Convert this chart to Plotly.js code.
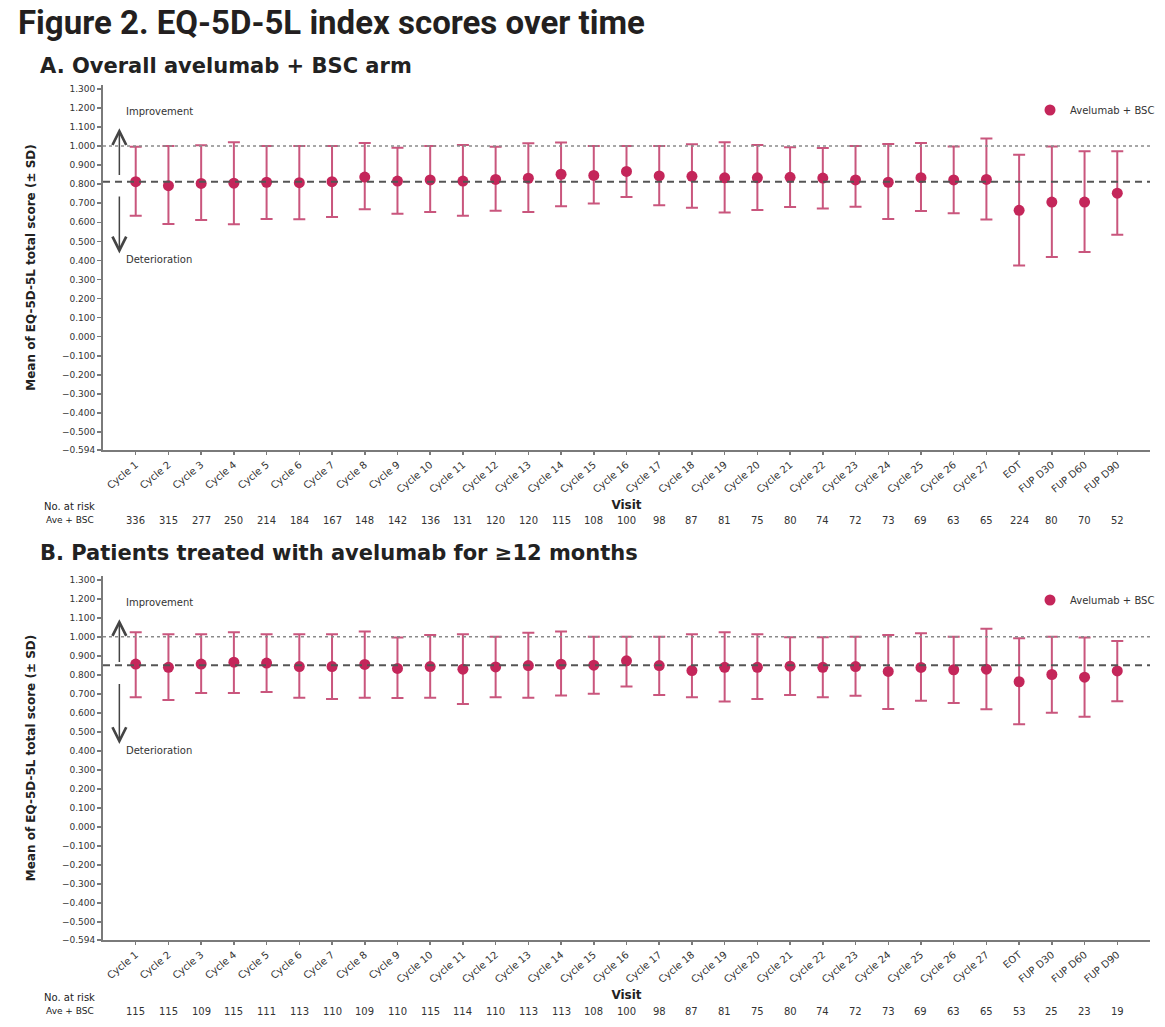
<!DOCTYPE html>
<html>
<head>
<meta charset="utf-8">
<script src="https://cdn.plot.ly/plotly-3.0.1.min.js"></script>
<style>html,body{margin:0;padding:0;background:#fff;}#chart{width:1165px;height:1027px;}</style>
</head>
<body>
<div id="chart"></div>
<script>
// ---------- DATA ----------
const visits = ['Cycle 1','Cycle 2','Cycle 3','Cycle 4','Cycle 5','Cycle 6','Cycle 7','Cycle 8','Cycle 9','Cycle 10',
  'Cycle 11','Cycle 12','Cycle 13','Cycle 14','Cycle 15','Cycle 16','Cycle 17','Cycle 18','Cycle 19','Cycle 20',
  'Cycle 21','Cycle 22','Cycle 23','Cycle 24','Cycle 25','Cycle 26','Cycle 27','EOT','FUP D30','FUP D60','FUP D90'];

// Panel A: overall avelumab + BSC arm
const meanA  = [0.813,0.792,0.804,0.805,0.810,0.808,0.813,0.837,0.816,0.822,0.816,0.825,0.831,0.852,0.846,0.867,0.843,0.841,0.833,0.833,0.836,0.832,0.822,0.810,0.834,0.822,0.825,0.663,0.706,0.706,0.753];
const upperA = [0.996,1.000,1.004,1.020,1.000,1.000,1.000,1.016,0.991,1.000,1.005,0.996,1.014,1.019,1.000,1.000,1.000,1.009,1.020,1.005,0.993,0.990,1.000,1.010,1.016,0.998,1.040,0.954,0.998,0.972,0.972];
const lowerA = [0.634,0.591,0.612,0.590,0.617,0.616,0.628,0.668,0.645,0.654,0.635,0.661,0.654,0.684,0.699,0.733,0.689,0.676,0.652,0.665,0.680,0.672,0.682,0.617,0.659,0.647,0.615,0.374,0.418,0.444,0.535];
const atRiskA = [336,315,277,250,214,184,167,148,142,136,131,120,120,115,108,100,98,87,81,75,80,74,72,73,69,63,65,224,80,70,52];

// Panel B: patients treated >= 12 months
const meanB  = [0.857,0.840,0.857,0.867,0.862,0.844,0.844,0.855,0.834,0.844,0.830,0.842,0.849,0.856,0.851,0.874,0.849,0.823,0.840,0.840,0.846,0.840,0.844,0.818,0.839,0.827,0.830,0.764,0.802,0.788,0.821];
const upperB = [1.024,1.014,1.014,1.024,1.014,1.014,1.014,1.028,0.996,1.010,1.014,1.000,1.022,1.028,1.000,1.000,1.000,1.014,1.024,1.014,0.998,0.998,1.000,1.010,1.019,1.000,1.043,0.993,1.000,0.996,0.978];
const lowerB = [0.683,0.668,0.705,0.705,0.710,0.680,0.673,0.680,0.678,0.680,0.647,0.683,0.680,0.692,0.701,0.739,0.694,0.683,0.660,0.673,0.694,0.683,0.690,0.620,0.664,0.652,0.619,0.540,0.601,0.580,0.661];
const atRiskB = [115,115,109,115,111,113,110,109,110,115,114,110,113,113,108,100,98,87,81,75,80,74,72,73,69,63,65,53,25,23,19];

// reference lines
const improveLine = 1.0;
const meanLineA = 0.813;
const meanLineB = 0.851;

// arrows [tip, tail] and label positions
const upArrowA = [1.093, 0.84];
const downArrowA = [0.437, 0.743];
const upArrowB = [1.093, 0.86];
const downArrowB = [0.437, 0.76];
const improveLabelY = 1.18;
const deteriorLabelY = 0.405;

const yTickVals = [-0.594,-0.5,-0.4,-0.3,-0.2,-0.1,0,0.1,0.2,0.3,0.4,0.5,0.6,0.7,0.8,0.9,1.0,1.1,1.2,1.3];
const yTickText = ['\u22120.594','\u22120.500','\u22120.400','\u22120.300','\u22120.200','\u22120.100','0.000','0.100','0.200','0.300','0.400','0.500','0.600','0.700','0.800','0.900','1.000','1.100','1.200','1.300'];

// ---------- STYLE ----------
const W = 1165, H = 1027;
const ML = 103, MR = 15;
const pink = '#c4265a';
const errPink = '#c9567d';
const axisGrey = '#7a7a7a';
const fontTick = 'DejaVu Sans, sans-serif';
const py = px => 1 - px / H;                       // pixel-from-top -> paper y
const pxX = px => (px - ML) / (W - ML - MR);        // pixel-from-left -> paper x

function mkTrace(mean, upper, lower, xa, ya, legend) {
  return {
    type: 'scatter', mode: 'markers', name: 'Avelumab + BSC',
    x: visits, y: mean, xaxis: xa, yaxis: ya, legend: legend,
    marker: {color: pink, size: 11},
    error_y: {type: 'data', symmetric: false,
      array: upper.map((u, i) => u - mean[i]),
      arrayminus: lower.map((l, i) => mean[i] - l),
      color: errPink, thickness: 2, width: 6}
  };
}

function yAxis(domain) {
  return {domain: domain, range: [-0.594, 1.32], tickvals: yTickVals, ticktext: yTickText,
    showgrid: false, zeroline: false, showline: true, linecolor: axisGrey, linewidth: 2,
    ticks: 'outside', ticklen: 4, tickcolor: axisGrey, tickwidth: 1.5,
    tickfont: {family: fontTick, size: 9, color: '#333'}, automargin: false,
    title: {text: '<b>Mean of EQ-5D-5L total score (± SD)</b>', font: {family: fontTick, size: 12, color: '#222'}, standoff: 24}};
}
function xAxis(anchor) {
  return {anchor: anchor, type: 'category', range: [-1, 31], tickangle: -40,
    showgrid: false, zeroline: false, showline: true, linecolor: axisGrey, linewidth: 2,
    ticks: 'outside', ticklen: 3, tickcolor: axisGrey, tickwidth: 1.5,
    tickfont: {family: fontTick, size: 10, color: '#333'}, automargin: false,
    title: {text: '<b>Visit</b>', font: {family: fontTick, size: 12, color: '#222'}, standoff: 6}};
}

const domA = [py(450), py(85)];
const domB = [py(940), py(576)];

const shapes = [];
[['x','y',meanLineA],['x2','y2',meanLineB]].forEach(([xa, ya, m]) => {
  shapes.push({type: 'line', xref: xa + ' domain', yref: ya, x0: 0, x1: 1, y0: improveLine, y1: improveLine,
    line: {color: '#8a8a8a', width: 1.5, dash: 'dot'}});
  shapes.push({type: 'line', xref: xa + ' domain', yref: ya, x0: 0, x1: 1, y0: m, y1: m,
    line: {color: '#555', width: 2, dash: '7px,5px'}});
});

const annotations = [
  {text: '<b>A. Overall avelumab + BSC arm</b>', xref: 'paper', yref: 'paper', x: pxX(38), y: py(66),
   xanchor: 'left', yanchor: 'middle', showarrow: false, font: {family: fontTick, size: 21, color: '#222'}},
  {text: '<b>B. Patients treated with avelumab for \u226512 months</b>', xref: 'paper', yref: 'paper', x: pxX(38), y: py(553),
   xanchor: 'left', yanchor: 'middle', showarrow: false, font: {family: fontTick, size: 21, color: '#222'}},
];

function panelDecor(xa, ya, up, down, riskRowTop, risk) {
  const fnt = {family: fontTick, size: 10, color: '#333'};
  annotations.push({xref: xa, yref: ya, x: -0.5, y: up[0], axref: xa, ayref: ya, ax: -0.5, ay: up[1],
    showarrow: true, arrowhead: 5, arrowsize: 1.8, arrowwidth: 1.5, arrowcolor: '#444', text: ''});
  annotations.push({xref: xa, yref: ya, x: -0.5, y: down[0], axref: xa, ayref: ya, ax: -0.5, ay: down[1],
    showarrow: true, arrowhead: 5, arrowsize: 1.8, arrowwidth: 1.5, arrowcolor: '#444', text: ''});
  annotations.push({xref: xa, yref: ya, x: -0.35, y: improveLabelY, xanchor: 'left', yanchor: 'middle',
    showarrow: false, text: 'Improvement', font: fnt});
  annotations.push({xref: xa, yref: ya, x: -0.35, y: deteriorLabelY, xanchor: 'left', yanchor: 'middle',
    showarrow: false, text: 'Deterioration', font: fnt});
  annotations.push({xref: 'paper', yref: 'paper', x: pxX(42), y: py(riskRowTop), xanchor: 'left', yanchor: 'middle',
    showarrow: false, text: 'No. at risk', font: {family: fontTick, size: 10, color: '#222'}});
  annotations.push({xref: 'paper', yref: 'paper', x: pxX(44), y: py(riskRowTop + 14), xanchor: 'left', yanchor: 'middle',
    showarrow: false, text: 'Ave + BSC', font: {family: fontTick, size: 9, color: '#222'}});
  risk.forEach((n, i) => annotations.push({xref: xa, yref: 'paper', x: visits[i], y: py(riskRowTop + 14),
    xanchor: 'center', yanchor: 'middle', showarrow: false, text: String(n), font: fnt}));
}
panelDecor('x', 'y', upArrowA, downArrowA, 506, atRiskA);
panelDecor('x2', 'y2', upArrowB, downArrowB, 997, atRiskB);

const legendStyle = (ypx) => ({x: pxX(1030), y: py(ypx), xanchor: 'left', yanchor: 'middle', bgcolor: 'rgba(0,0,0,0)',
  font: {family: fontTick, size: 10, color: '#333'}, itemwidth: 30});

const layout = {
  width: W, height: H, paper_bgcolor: '#fff', plot_bgcolor: '#fff',
  margin: {l: ML, r: MR, t: 0, b: 0},
  title: {text: '<b>Figure 2. EQ-5D-5L index scores over time</b>', xref: 'container', yref: 'container',
    x: 18 / W, xanchor: 'left', y: py(22), yanchor: 'middle', font: {family: 'Roboto, sans-serif', size: 33, color: '#231f20'}},
  showlegend: true,
  legend: legendStyle(110),
  legend2: legendStyle(600),
  xaxis: xAxis('y'), yaxis: yAxis(domA),
  xaxis2: xAxis('y2'), yaxis2: yAxis(domB),
  shapes: shapes, annotations: annotations
};

Plotly.newPlot('chart', [
  mkTrace(meanA, upperA, lowerA, 'x', 'y', 'legend'),
  mkTrace(meanB, upperB, lowerB, 'x2', 'y2', 'legend2')
], layout, {displayModeBar: false, staticPlot: true});
</script>
</body>
</html>
